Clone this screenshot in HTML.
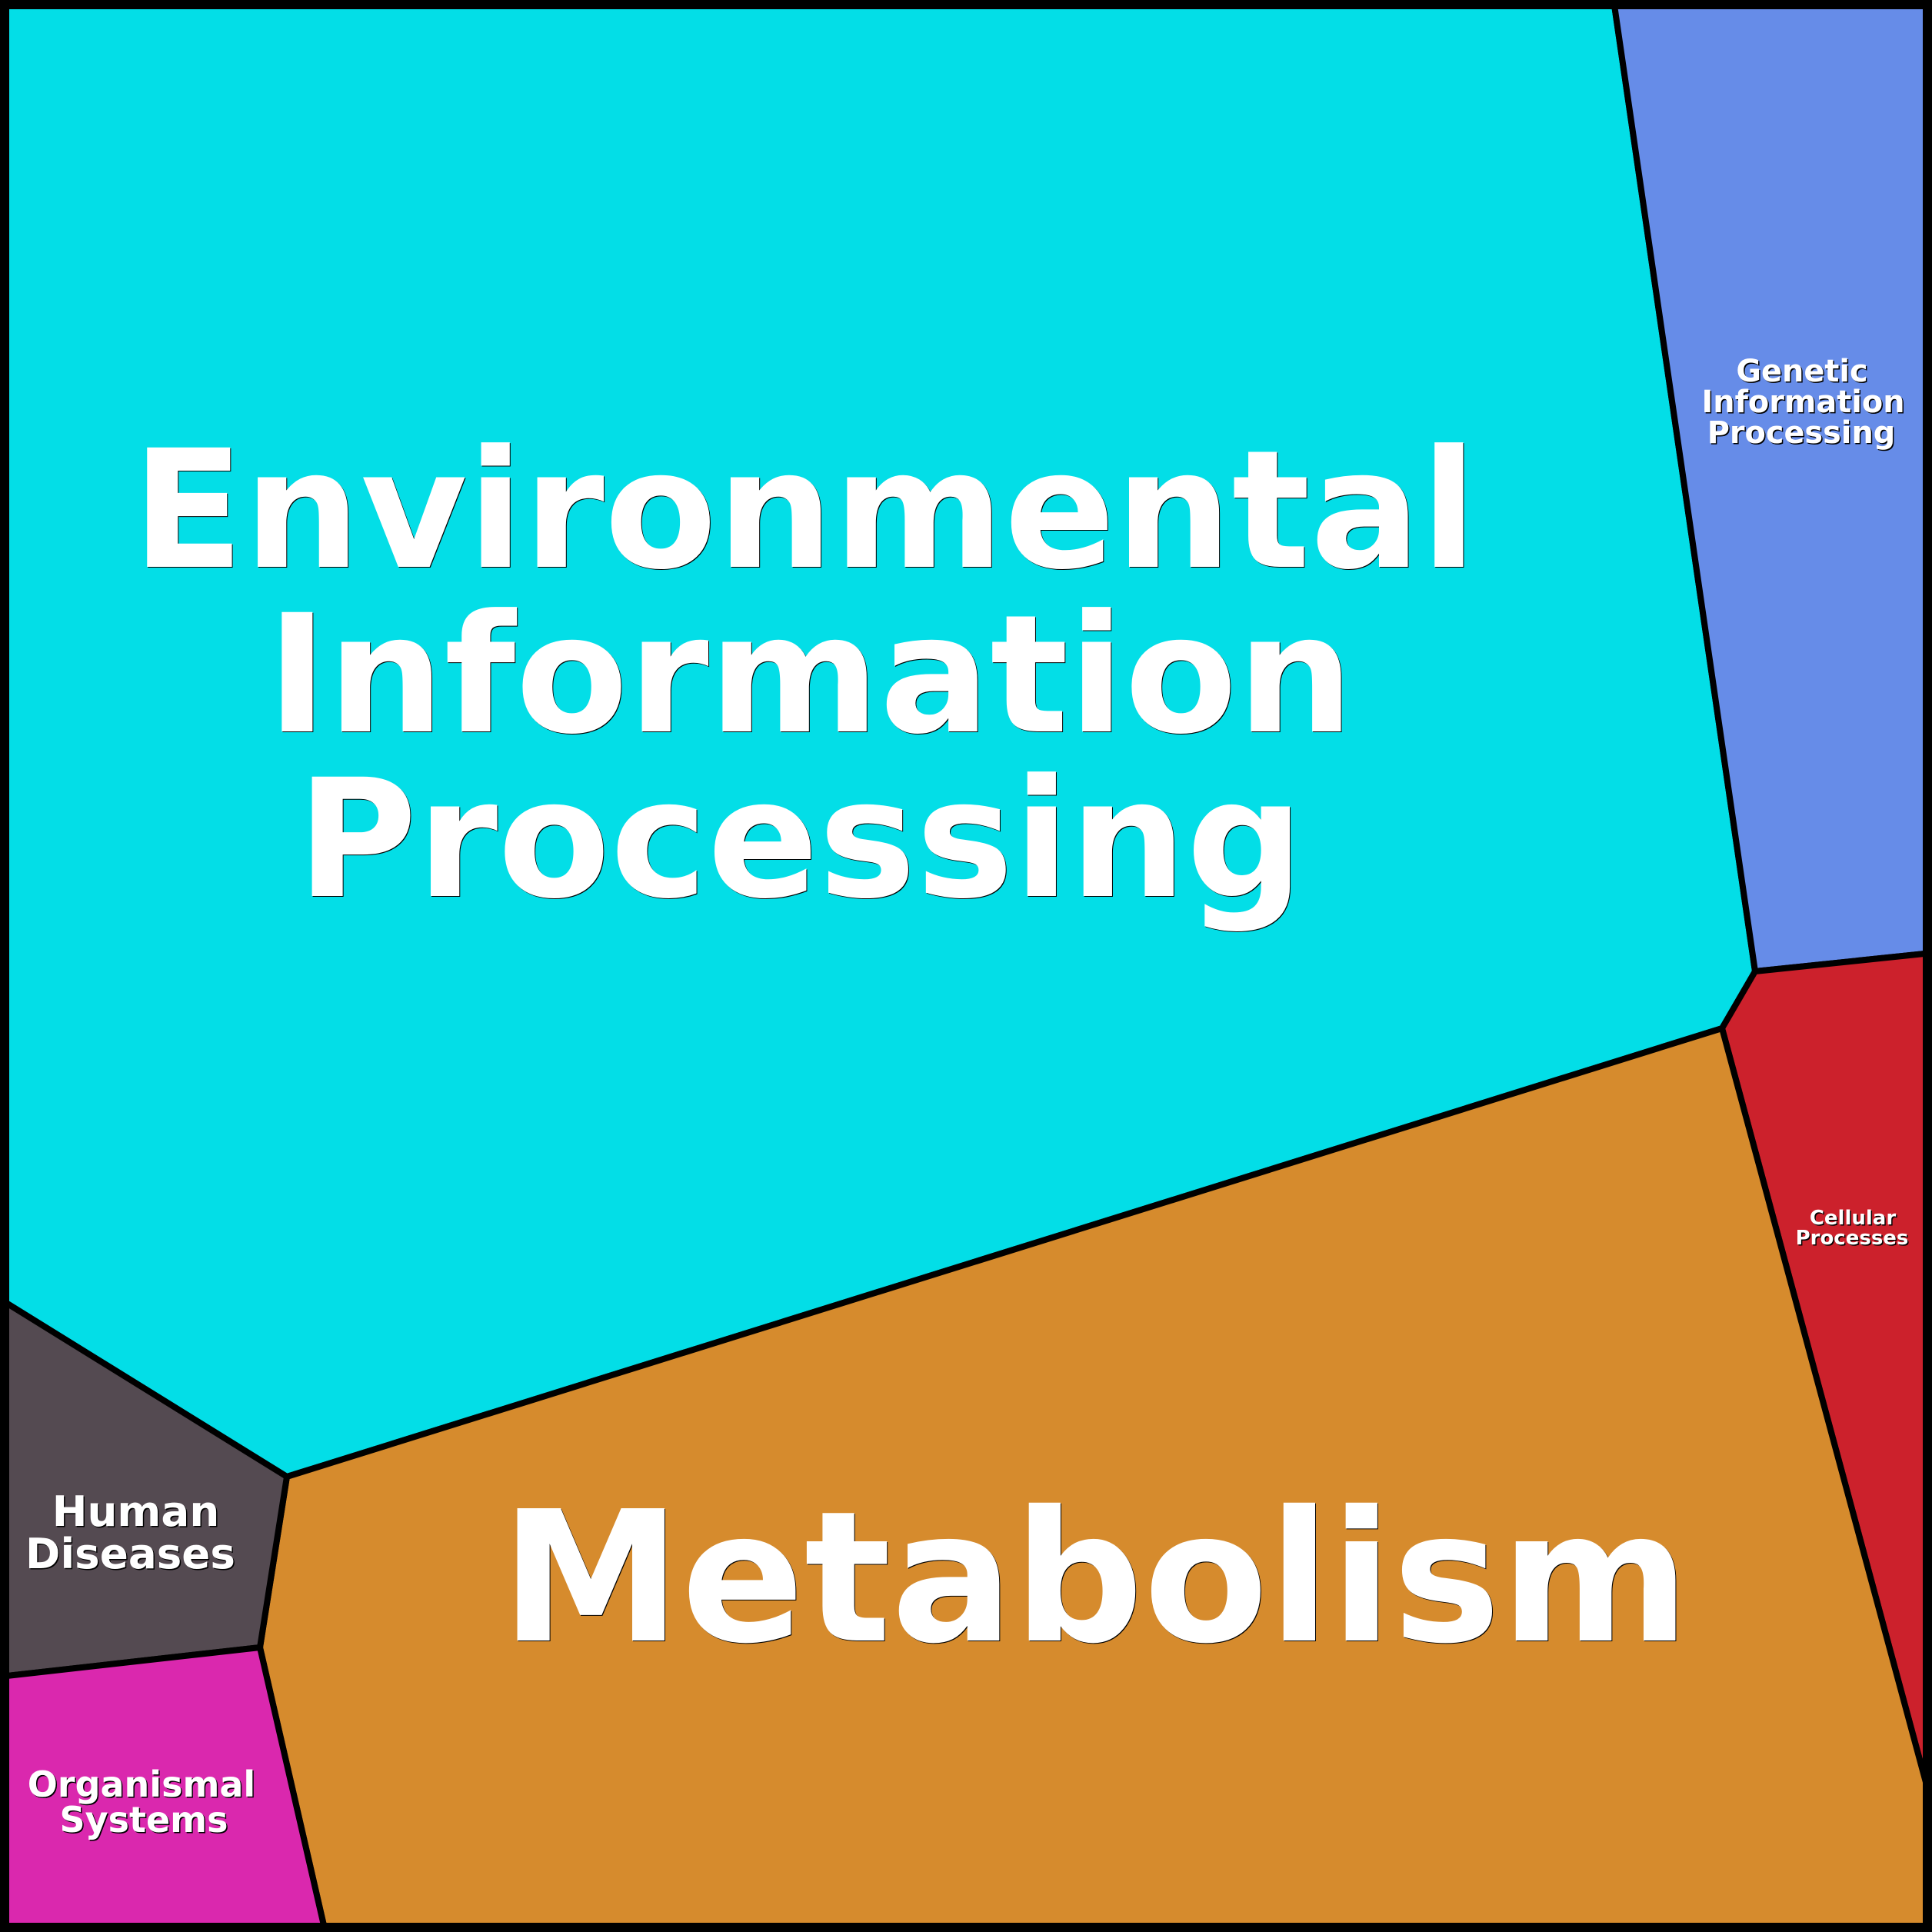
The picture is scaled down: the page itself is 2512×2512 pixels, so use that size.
<!DOCTYPE html>
<html><head><meta charset="utf-8"><style>
html,body{margin:0;padding:0;background:#3a3a3a}
svg{display:block}
text{font-family:"DejaVu Sans",sans-serif;font-weight:bold;fill:#fff;text-anchor:middle}
.b{text-shadow:1px 1px 0 #000}
.s{text-shadow:1.5px 1.5px 0 #000}
</style></head><body>
<svg width="2512" height="2512" viewBox="0 0 2512 2512" xmlns="http://www.w3.org/2000/svg">
<rect width="2512" height="2512" fill="#3a3a3a"/>
<rect x="1.5" y="0" width="2510.5" height="2512" rx="8" ry="8" fill="#000"/>
<g stroke="#000" stroke-width="8" stroke-linejoin="miter">
<polygon fill="#03dee7" points="0,0 2098,0 2282,1263 2239,1337 373,1920 0,1689"/>
<polygon fill="#668ce8" points="2098,0 2512,0 2512,1239 2282,1263"/>
<polygon fill="#cc212c" points="2282,1263 2512,1239 2512,2347 2239,1337"/>
<polygon fill="#d68b2d" points="373,1920 2239,1337 2512,2347 2512,2512 423,2512 338,2142"/>
<polygon fill="#544a51" points="0,1689 373,1920 338,2142 0,2180"/>
<polygon fill="#da28ae" points="0,2180 338,2142 423,2512 0,2512"/>
</g>
<path fill-rule="evenodd" fill="#000" d="M1.5,0H2512V2512H1.5Z M12,12V2500H2500V12Z"/>
<g class="b" font-size="213">
<text x="1046" y="737">Environmental</text>
<text x="1053.5" y="951">Information</text>
<text x="1040.5" y="1165">Processing</text>
</g>
<text class="b" x="1424" y="2133" font-size="236">Metabolism</text>
<g class="s" font-size="39.8">
<text x="2343" y="496">Genetic</text>
<text x="2344.5" y="536">Information</text>
<text x="2342" y="576">Processing</text>
</g>
<g class="s" font-size="26">
<text x="2409" y="1592">Cellular</text>
<text x="2408" y="1618">Processes</text>
</g>
<g class="s" font-size="54.7">
<text x="176.5" y="1984">Human</text>
<text x="169.5" y="2039">Diseases</text>
</g>
<g class="s" font-size="46">
<text x="184" y="2336">Organismal</text>
<text x="187" y="2382">Systems</text>
</g>
</svg>
</body></html>
